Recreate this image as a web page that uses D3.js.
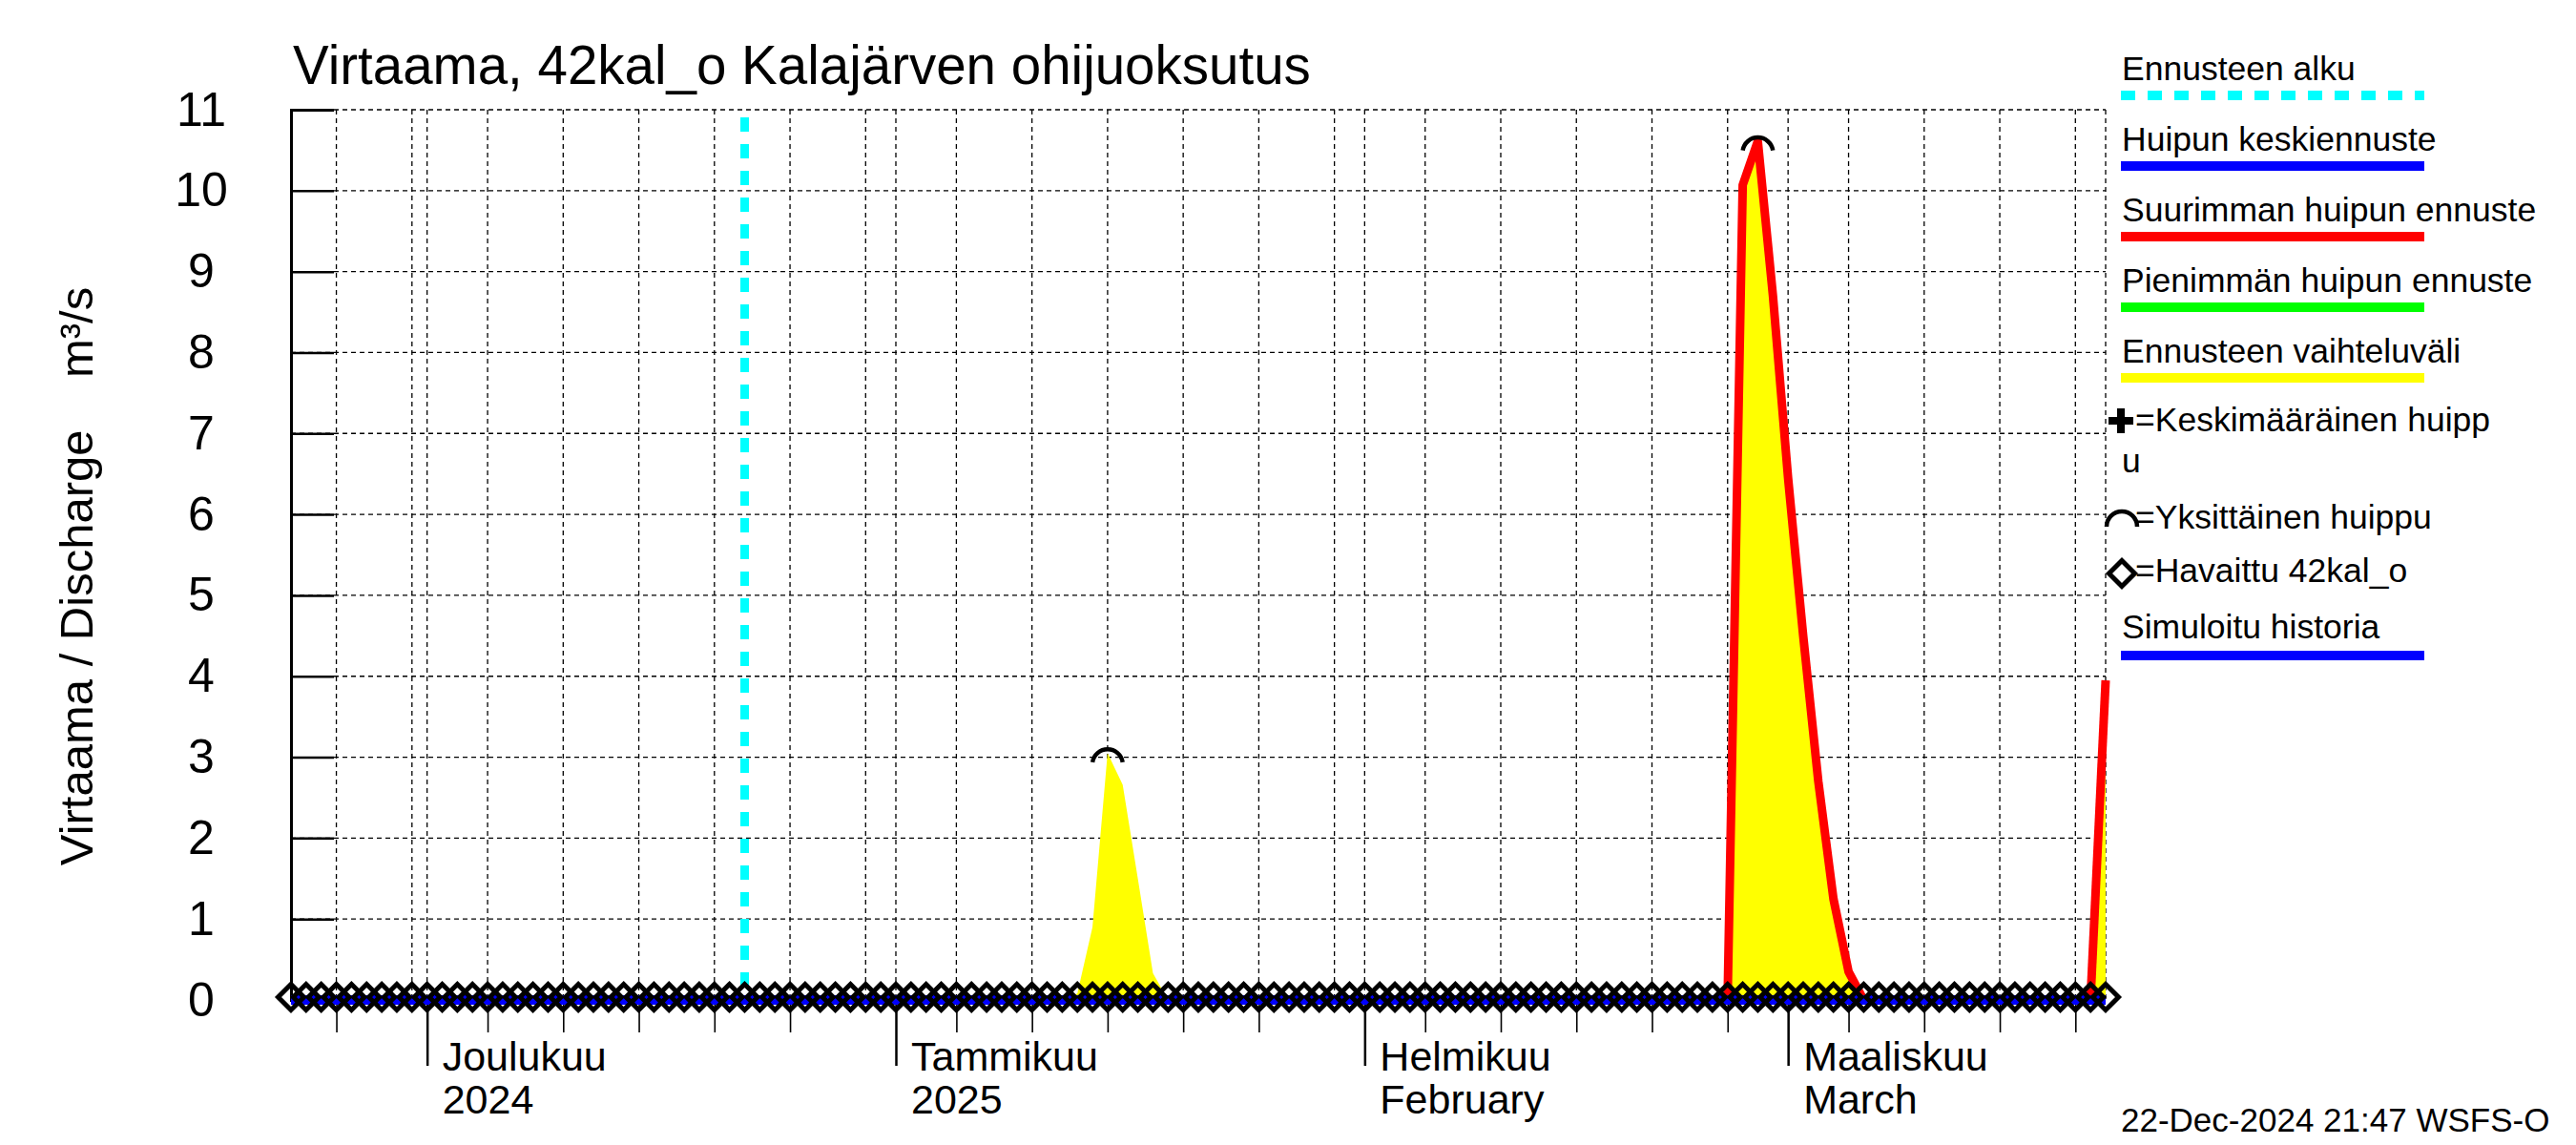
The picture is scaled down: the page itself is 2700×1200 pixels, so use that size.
<!DOCTYPE html>
<html>
<head>
<meta charset="utf-8">
<script src="https://cdn.jsdelivr.net/npm/d3@7"></script>
<style>
  body { margin: 0; background: #fff; }
  svg { display: block; }
  text { font-family: "Liberation Sans", Arial, Helvetica, sans-serif; fill: #000; }
</style>
</head>
<body>
<svg id="chart" width="2700" height="1200"></svg>
<script>
// ── data ───────────────────────────────────────────────────
const chartTitle = 'Virtaama, 42kal_o Kalajärven ohijuoksutus';
const yTitle = 'Virtaama / Discharge    m³/s';
const stamp = '22-Dec-2024 21:47 WSFS-O';

const timeRange = ['2024-11-22', '2025-03-22'];
const forecastStart = '2024-12-22';
const yTicks = [0, 1, 2, 3, 4, 5, 6, 7, 8, 9, 10, 11];
const monthTicks = ['2024-12-01', '2025-01-01', '2025-02-01', '2025-03-01'];
const monthLabels = [['Joulukuu', '2024'], ['Tammikuu', '2025'], ['Helmikuu', 'February'], ['Maaliskuu', 'March']];

// observed discharge: 0 on every day of the shown period
const observedValue = 0;
// simulated history / mean forecast stay at 0
const simulatedValue = 0;

// forecast range (yellow), upper edge, lower edge is 0
const band1Dates = ['2025-01-12', '2025-01-13', '2025-01-14', '2025-01-15', '2025-01-16', '2025-01-17', '2025-01-18', '2025-01-19'];
const band1High  = [0, 0.08, 0.9, 3.05, 2.66, 1.5, 0.33, 0];
const band2Dates = ['2025-02-25', '2025-02-26', '2025-02-27', '2025-02-28', '2025-03-01', '2025-03-02', '2025-03-03', '2025-03-04', '2025-03-05', '2025-03-06'];
const band2High  = [0, 10.07, 10.61, 8.7, 6.45, 4.5, 2.7, 1.25, 0.35, 0];
const band3Dates = ['2025-03-21', '2025-03-22'];
const band3High  = [0, 3.95];

// largest peak forecast (red)
const max1Dates = ['2025-02-25', '2025-02-26', '2025-02-27', '2025-02-28', '2025-03-01', '2025-03-02', '2025-03-03', '2025-03-04', '2025-03-05', '2025-03-06'];
const max1Values = [0, 10.07, 10.61, 8.7, 6.45, 4.5, 2.7, 1.25, 0.35, 0];
const max2Dates = ['2025-03-21', '2025-03-22'];
const max2Values = [0, 3.95];

// single peaks
const peakDates = ['2025-01-15', '2025-02-27'];
const peakValues = [3.05, 10.61];

const legendLabels = ['Ennusteen alku', 'Huipun keskiennuste', 'Suurimman huipun ennuste',
  'Pienimmän huipun ennuste', 'Ennusteen vaihteluväli'];

// ── setup ──────────────────────────────────────────────────
const parse = d3.utcParse('%Y-%m-%d');
const svg = d3.select('#chart');

const x = d3.scaleUtc().domain(timeRange.map(parse)).range([305, 2207]);
const y = d3.scaleLinear().domain([0, 11]).range([1048, 115]);
const [x0, x1] = x.range();
const [yb, yt] = y.range();

const allDays = d3.utcDay.range(x.domain()[0], d3.utcDay.offset(x.domain()[1], 1));
const zip = (ds, vs) => ds.map((d, i) => ({ date: parse(d), value: vs[i] }));

// grid
const gridDays = allDays.filter(d => d.getUTCDate() === 1 || d.getUTCDate() % 5 === 0);
const grid = svg.append('g')
  .attr('stroke', '#000').attr('stroke-width', 1.3).attr('stroke-dasharray', '5,4');
grid.selectAll('line.v').data(gridDays.concat([x.domain()[1]])).join('line')
  .attr('class', 'v')
  .attr('x1', d => x(d)).attr('x2', d => x(d))
  .attr('y1', yt).attr('y2', yb);
grid.selectAll('line.h').data(yTicks.filter(v => v > 0)).join('line')
  .attr('class', 'h')
  .attr('x1', x0).attr('x2', x1)
  .attr('y1', d => y(d)).attr('y2', d => y(d));

// y axis: ticks point into the plot, labels centred to the left
const yAxis = d3.axisLeft(y).tickValues(yTicks).tickSize(-45).tickPadding(0).tickFormat(d3.format('d'));
svg.append('g').attr('transform', `translate(${x0},0)`).call(yAxis)
  .call(g => g.select('.domain').attr('stroke-width', 3))
  .call(g => g.selectAll('.tick line').attr('stroke-width', 2.5))
  .call(g => g.selectAll('.tick text')
    .attr('x', -94).attr('text-anchor', 'middle')
    .attr('font-size', 50).attr('font-family', null));

// x axis ticks below the zero line
const minorDays = allDays.filter(d => d.getUTCDate() % 5 === 0 && d.getUTCDate() < 30);
svg.append('g').attr('transform', `translate(0,${yb})`)
  .call(d3.axisBottom(x).tickValues(minorDays).tickSize(34).tickFormat(''))
  .call(g => g.select('.domain').remove())
  .call(g => g.selectAll('.tick line').attr('stroke-width', 1.6));
svg.append('g').attr('transform', `translate(0,${yb})`)
  .call(d3.axisBottom(x).tickValues(monthTicks.map(parse)).tickSize(69).tickFormat(''))
  .call(g => g.select('.domain').remove())
  .call(g => g.selectAll('.tick line').attr('stroke-width', 2.5));

const months = svg.append('g').attr('font-size', 43);
monthTicks.forEach((m, i) => {
  const t = months.append('text').attr('x', x(parse(m)) + 16);
  t.append('tspan').attr('x', x(parse(m)) + 16).attr('y', 1122).text(monthLabels[i][0]);
  t.append('tspan').attr('x', x(parse(m)) + 16).attr('y', 1167).text(monthLabels[i][1]);
});

// forecast range (yellow)
const area = d3.area().x(d => x(d.date)).y0(y(0)).y1(d => y(d.value));
[zip(band1Dates, band1High), zip(band2Dates, band2High), zip(band3Dates, band3High)].forEach(b => {
  svg.append('path').datum(b).attr('d', area).attr('fill', '#ffff00');
});

// forecast start
svg.append('line')
  .attr('x1', x(parse(forecastStart))).attr('x2', x(parse(forecastStart)))
  .attr('y1', yt + 8).attr('y2', yb)
  .attr('stroke', '#00ffff').attr('stroke-width', 9).attr('stroke-dasharray', '15,13');

// largest peak forecast
const line = d3.line().x(d => x(d.date)).y(d => y(d.value));
[zip(max1Dates, max1Values), zip(max2Dates, max2Values)].forEach(s => {
  svg.append('path').datum(s).attr('d', line)
    .attr('fill', 'none').attr('stroke', '#ff0000').attr('stroke-width', 9)
    .attr('stroke-linejoin', 'round');
});

// simulated history / mean forecast
svg.append('path').datum(allDays.map(d => ({ date: d, value: simulatedValue })))
  .attr('d', line).attr('fill', 'none').attr('stroke', '#0000ff').attr('stroke-width', 10);

// observed diamonds
const diamond = 'M0,-13.5L13.5,0L0,13.5L-13.5,0Z';
svg.append('g').selectAll('path').data(allDays).join('path')
  .attr('d', diamond)
  .attr('transform', d => `translate(${x(d)},${y(observedValue) - 3})`)
  .attr('fill', 'none').attr('stroke', '#000').attr('stroke-width', 5);

// single peak markers (upper arcs)
const a = Math.PI * 0.55, r = 16;
const peakArc = `M${-r * Math.sin(a)},${-r * Math.cos(a)}A${r},${r} 0 0 1 ${r * Math.sin(a)},${-r * Math.cos(a)}`;
peakDates.forEach((d, i) => {
  svg.append('path')
    .attr('d', peakArc)
    .attr('transform', `translate(${x(parse(d))},${y(peakValues[i]) + 7})`)
    .attr('fill', 'none').attr('stroke', '#000').attr('stroke-width', 4.5);
});

// titles
svg.append('text').attr('x', 307).attr('y', 88).attr('font-size', 56.5).text(chartTitle);
svg.append('text')
  .attr('transform', 'translate(97,604) rotate(-90)')
  .attr('text-anchor', 'middle').attr('font-size', 49)
  .style('white-space', 'pre').text(yTitle);
svg.append('text').attr('x', 2223).attr('y', 1186).attr('font-size', 35).text(stamp);

// legend
const legend = svg.append('g').attr('font-size', 35.5);
const legendColors = ['#00ffff', '#0000ff', '#ff0000', '#00ff00', '#ffff00'];
legendLabels.forEach((l, i) => {
  legend.append('text').attr('x', 2224).attr('y', 84 + 74 * i).text(l);
  legend.append('line')
    .attr('x1', 2223).attr('x2', 2541)
    .attr('y1', 100 + 74 * i).attr('y2', 100 + 74 * i)
    .attr('stroke', legendColors[i]).attr('stroke-width', 10)
    .attr('stroke-dasharray', i === 0 ? '15,13' : null);
});
// plus
legend.append('path').attr('d', 'M2210,441H2236M2223,428V454').attr('stroke', '#000').attr('stroke-width', 8);
legend.append('text').attr('x', 2238).attr('y', 452).text('=Keskimääräinen huipp');
legend.append('text').attr('x', 2224).attr('y', 495).text('u');
// arc
legend.append('path')
  .attr('d', 'M2208,552A16,16 0 0 1 2240,552')
  .attr('fill', 'none').attr('stroke', '#000').attr('stroke-width', 4.5);
legend.append('text').attr('x', 2238).attr('y', 554).text('=Yksittäinen huippu');
// diamond
legend.append('path').attr('d', diamond).attr('transform', 'translate(2224,601)')
  .attr('fill', 'none').attr('stroke', '#000').attr('stroke-width', 5);
legend.append('text').attr('x', 2238).attr('y', 610).text('=Havaittu 42kal_o');
legend.append('text').attr('x', 2224).attr('y', 669).text('Simuloitu historia');
legend.append('line').attr('x1', 2223).attr('x2', 2541).attr('y1', 687).attr('y2', 687)
  .attr('stroke', '#0000ff').attr('stroke-width', 10);
</script>
</body>
</html>
